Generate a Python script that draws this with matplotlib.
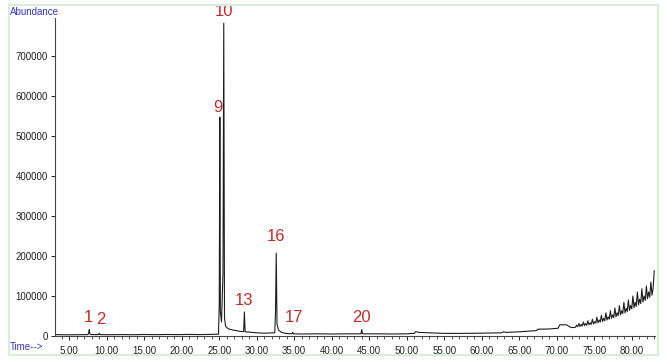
import matplotlib.pyplot as plt
from matplotlib.patches import Rectangle
from matplotlib.ticker import MultipleLocator, FormatStrFormatter

plt.rcParams['font.family'] = ['Liberation Sans', 'DejaVu Sans']

# (retention time in min, abundance)
early_trace = [(3.2, 3500), (4.5, 3000), (6.0, 3200), (7.5, 3500), (7.6, 9000),
               (7.67, 16000), (7.75, 5000), (7.9, 3500), (8.9, 3500), (9.0, 7000),
               (9.1, 3500), (10.5, 3200), (12.0, 3600), (13.5, 3200), (15.0, 3800),
               (16.5, 3400), (18.0, 3800), (19.5, 3500), (21.0, 3900), (22.5, 3600),
               (24.0, 4200), (24.9, 4500)]
main_peaks = [(25.0, 80000), (25.08, 547000), (25.15, 60000), (25.3, 35000),
              (25.5, 160000), (25.6, 782000), (25.7, 45000), (25.85, 24000),
              (26.2, 18000), (26.8, 15000), (27.4, 13000), (27.8, 11500),
              (28.25, 11000), (28.35, 60000), (28.45, 10500), (29.1, 9500),
              (30.0, 8000), (31.0, 7000), (32.4, 8000), (32.5, 60000),
              (32.6, 207000), (32.7, 30000), (32.9, 15000), (33.3, 9000),
              (34.0, 6000), (34.7, 5500), (34.8, 9000), (34.9, 5500)]
mid_trace = [(36.0, 5000), (38.0, 5500), (40.0, 5000), (42.0, 5500), (43.9, 5500),
             (44.0, 16000), (44.1, 5500), (46.0, 5500), (48.0, 5000), (50.0, 5500),
             (51.0, 6500), (51.2, 11000), (51.6, 9000), (53.0, 8000), (55.0, 6500),
             (57.0, 6500), (59.0, 6800), (61.0, 7500), (62.7, 8000), (62.9, 10500),
             (63.3, 9000), (65.0, 10500), (66.5, 12500), (67.3, 13500), (67.5, 17000),
             (69.0, 17500), (70.2, 19500), (70.4, 28000), (71.3, 28000),
             (71.8, 22000), (72.2, 21000)]
late_trace = [(72.50, 22000), (72.65, 27000), (72.80, 23000), (72.95, 31000),
              (73.10, 24000), (73.25, 29000), (73.40, 25000), (73.55, 35000),
              (73.70, 26000), (73.85, 31000), (74.00, 27000), (74.15, 38000),
              (74.30, 28000), (74.45, 33000), (74.60, 29000), (74.75, 42000),
              (74.90, 30000), (75.05, 36000), (75.20, 32000), (75.35, 47000),
              (75.50, 33000), (75.65, 40000), (75.80, 35000), (75.95, 52000),
              (76.10, 36000), (76.25, 44000), (76.40, 38000), (76.55, 58000),
              (76.70, 40000), (76.85, 48000), (77.00, 42000), (77.15, 63000),
              (77.30, 44000), (77.45, 53000), (77.60, 46000), (77.75, 70000),
              (77.90, 48000), (78.05, 58000), (78.20, 51000), (78.35, 76000),
              (78.50, 53000), (78.65, 63000), (78.80, 56000), (78.95, 84000),
              (79.10, 58000), (79.25, 69000), (79.40, 61000), (79.55, 90000),
              (79.70, 64000), (79.85, 76000), (80.00, 68000), (80.15, 100000),
              (80.30, 71000), (80.45, 84000), (80.60, 74000), (80.75, 110000),
              (80.90, 78000), (81.05, 92000), (81.20, 81000), (81.35, 118000),
              (81.50, 85000), (81.65, 100000), (81.80, 89000), (81.95, 125000),
              (82.10, 93000), (82.25, 110000), (82.40, 97000), (82.55, 135000),
              (82.70, 102000), (82.85, 120000), (83.00, 163000)]

peak_labels = ['1', '2', '9', '10', '13', '16', '17', '20']
peak_time = [7.55, 9.2, 24.85, 25.6, 28.35, 32.6, 34.9, 44.0]
peak_label_y = [47000, 42000, 572000, 812000, 88000, 248000, 47000, 47000]

trace = early_trace + main_peaks + mid_trace + late_trace
time = [p[0] for p in trace]
abundance = [p[1] for p in trace]

fig = plt.figure(figsize=(6.66, 3.6), dpi=100)
ax = fig.add_axes([55 / 666, 1 - 336 / 360, 600 / 666, 318 / 360])

ax.plot(time, abundance, color='#1e1e1e', lw=0.8)

for lab, t, y in zip(peak_labels, peak_time, peak_label_y):
    ax.text(t, y, lab, color='#c42a2a', fontsize=12, ha='center', va='center',
            clip_on=False)

ax.set_xlim(3.1, 83.1)
ax.set_ylim(0, 795000)
ax.xaxis.set_major_locator(MultipleLocator(5))
ax.xaxis.set_minor_locator(MultipleLocator(1))
ax.xaxis.set_major_formatter(FormatStrFormatter('%.2f'))
ax.set_yticks(range(0, 800000, 100000))
ax.tick_params(axis='both', labelsize=7, colors='#222222', length=3, width=0.7, pad=2)
ax.tick_params(axis='x', which='minor', length=2, width=0.6, colors='#333333')
ax.tick_params(axis='x', pad=4)

for side in ['top', 'right']:
    ax.spines[side].set_visible(False)
for side in ['left', 'bottom']:
    ax.spines[side].set_color('#444444')
    ax.spines[side].set_linewidth(0.8)

fig.text(10 / 666, 1 - 12 / 360, 'Abundance', color='#3636c8', fontsize=7, va='center')
fig.text(10 / 666, 1 - 347 / 360, 'Time-->', color='#3636c8', fontsize=7, va='center')

fig.patches.append(Rectangle((9 / 666, 1 - 355 / 360), 649 / 666, 350 / 360,
                             transform=fig.transFigure, fill=False,
                             edgecolor='#d6efd6', lw=1.5))

fig.savefig('out.png', dpi=100)
